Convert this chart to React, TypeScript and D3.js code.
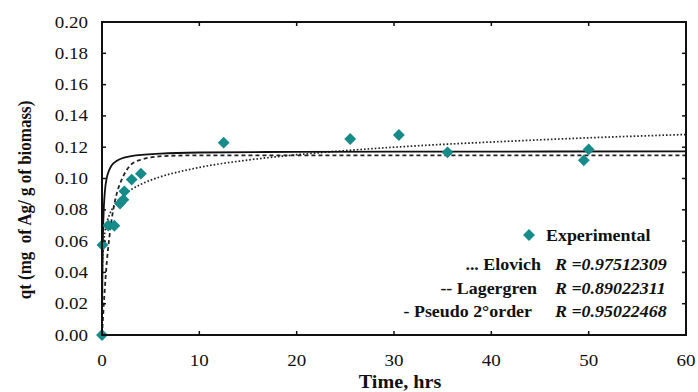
import React from "react";
import * as d3 from "d3";

const W = 698;
const H = 392;
const M = { left: 102, right: 12, top: 22, bottom: 57 };

const xTicks = [0, 10, 20, 30, 40, 50, 60];
const yTicks = [0, 0.02, 0.04, 0.06, 0.08, 0.1, 0.12, 0.14, 0.16, 0.18, 0.2];

// Experimental points (time hrs, qt)
const expT = [0, 0.05, 0.65, 1.27, 1.85, 2.2, 2.3, 3.05, 4.0, 12.5, 25.5, 30.5, 35.5, 49.5, 50];
const expQ = [0, 0.0575, 0.070, 0.0698, 0.084, 0.0865, 0.0918, 0.0993, 0.1031, 0.1229, 0.1252, 0.1278, 0.1167, 0.1116, 0.1186];

// Elovich fit (dotted)
const eloT = [0.002, 0.01, 0.05, 0.1, 0.2, 0.3, 0.5, 0.75, 1, 1.5, 2, 3, 4, 6, 8, 10, 15, 20, 25, 30, 35, 40, 45, 50, 55, 60];
const eloQ = [0.007, 0.026, 0.045, 0.053, 0.061, 0.066, 0.072, 0.0766, 0.080, 0.0848, 0.0881, 0.0929, 0.0963, 0.1011, 0.1044, 0.1071, 0.1118, 0.1152, 0.1178, 0.120, 0.1218, 0.1233, 0.1247, 0.126, 0.1271, 0.1281];

// Lagergren fit (dashed)
const lagT = [0, 0.25, 0.5, 0.75, 1, 1.5, 2, 2.5, 3, 4, 5, 7, 10, 20, 40, 60];
const lagQ = [0, 0.026, 0.047, 0.062, 0.074, 0.090, 0.099, 0.105, 0.109, 0.112, 0.1135, 0.1145, 0.1148, 0.1148, 0.1148, 0.1148];

// Pseudo 2nd order fit (solid)
const psoT = [0, 0.02, 0.05, 0.1, 0.2, 0.3, 0.5, 0.75, 1, 1.5, 2, 3, 6, 10, 20, 40, 60];
const psoQ = [0, 0.023, 0.044, 0.064, 0.083, 0.092, 0.1007, 0.1055, 0.1085, 0.1112, 0.1128, 0.1143, 0.1159, 0.1166, 0.117, 0.1172, 0.1173];

const legendModels = ["... Elovich", "-- Lagergren", "- Pseudo 2\u00B0order"];
const legendR = ["R =0.97512309", "R =0.89022311", "R =0.95022468"];

const TEAL = "#178a8a";
const FONT = "Liberation Serif, Times New Roman, DejaVu Serif, serif";
const tf: React.CSSProperties = { fontFamily: FONT, whiteSpace: "pre" };
const SX = 1.12;

type TProps = {
  x: number;
  y: number;
  anchor?: "start" | "middle" | "end";
  size: number;
  bold?: boolean;
  italic?: boolean;
  children: React.ReactNode;
};

function T({ x, y, anchor = "start", size, bold, italic, children }: TProps) {
  return (
    <text
      transform={`translate(${x},${y}) scale(${SX},1)`}
      textAnchor={anchor}
      fontSize={size}
      fontWeight={bold ? "bold" : "normal"}
      fontStyle={italic ? "italic" : "normal"}
      fill="#111"
      style={tf}
    >
      {children}
    </text>
  );
}

export default function App() {
  const x = d3.scaleLinear().domain([0, 60]).range([M.left, W - M.right]);
  const y = d3.scaleLinear().domain([0, 0.2]).range([H - M.bottom, M.top]);

  const line = (ts: number[], qs: number[]) =>
    d3
      .line<number>()
      .x((_, i) => x(ts[i]))
      .y((_, i) => y(qs[i]))
      .curve(d3.curveMonotoneX)(ts) as string;

  const diamond = d3.symbol().type(d3.symbolDiamond2).size(90)() as string;

  const x0 = M.left, x1 = W - M.right, y0 = H - M.bottom, y1 = M.top;

  return (
    <svg width={W} height={H} style={{ position: "absolute", left: 0, top: 0, background: "#fff" }}>
      <rect x={0} y={0} width={W} height={H} fill="#fff" />
      {/* curves */}
      <path d={line(eloT, eloQ)} fill="none" stroke="#222" strokeWidth={1.7} strokeDasharray="1.6,2" />
      <path d={line(lagT, lagQ)} fill="none" stroke="#222" strokeWidth={1.8} strokeDasharray="4,3" />
      <path d={line(psoT, psoQ)} fill="none" stroke="#111" strokeWidth={1.8} />
      {/* points */}
      {expT.map((t, i) => (
        <path key={i} d={diamond} transform={`translate(${x(t)},${y(expQ[i])})`} fill={TEAL} />
      ))}
      {/* frame */}
      <rect x={x0} y={y1} width={x1 - x0} height={y0 - y1} fill="none" stroke="#111" strokeWidth={2} />
      {xTicks.map((t) => (
        <g key={"x" + t}>
          <line x1={x(t)} x2={x(t)} y1={y0} y2={y0 - 4} stroke="#111" strokeWidth={1.5} />
          <line x1={x(t)} x2={x(t)} y1={y1} y2={y1 + 4} stroke="#111" strokeWidth={1.5} />
          <T x={x(t)} y={366} anchor="middle" size={17}>{t}</T>
        </g>
      ))}
      {yTicks.map((t) => (
        <g key={"y" + t}>
          <line x1={x0} x2={x0 + 4} y1={y(t)} y2={y(t)} stroke="#111" strokeWidth={1.5} />
          <line x1={x1} x2={x1 - 4} y1={y(t)} y2={y(t)} stroke="#111" strokeWidth={1.5} />
          <T x={88} y={y(t) + 5.5} anchor="end" size={17}>{d3.format(".2f")(t)}</T>
        </g>
      ))}
      {/* axis titles */}
      <T x={400} y={388} anchor="middle" size={18} bold>Time, hrs</T>
      <text
        transform={`translate(31,200) rotate(-90) scale(1,${SX})`}
        textAnchor="middle"
        fontSize={17}
        fontWeight="bold"
        fill="#111"
        style={tf}
      >
        qt (mg  of Ag/ g of biomass)
      </text>
      {/* legend */}
      <path d={diamond} transform="translate(529,235)" fill={TEAL} />
      <T x={546} y={241} size={16} bold>Experimental</T>
      {legendModels.map((m, i) => (
        <g key={m}>
          <T x={[541, 537, 532][i]} y={270 + i * 23.5} anchor="end" size={16} bold>{m}</T>
          <T x={555} y={270 + i * 23.5} size={16} bold italic>{legendR[i]}</T>
        </g>
      ))}
    </svg>
  );
}
